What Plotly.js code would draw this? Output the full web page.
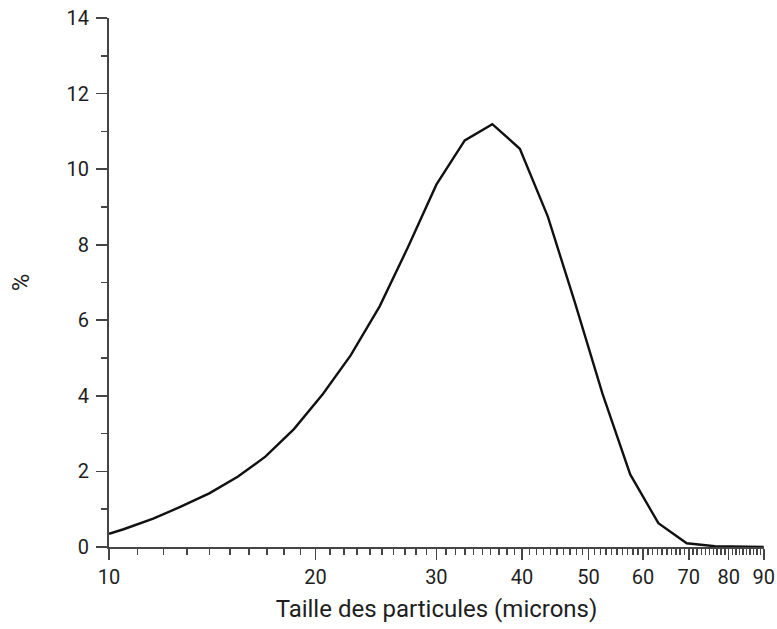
<!DOCTYPE html>
<html>
<head>
<meta charset="utf-8">
<script src="https://cdn.plot.ly/plotly-3.0.1.min.js"></script>
<style>
  html, body { margin: 0; padding: 0; background: #fff; }
  #chart { width: 777px; height: 629px; }
</style>
</head>
<body>
<div id="chart"></div>
<script>
// Particle size (microns) and percentage
const tailles = [10, 10.5, 11.6, 12.7, 14.0, 15.4, 16.9, 18.6, 20.5, 22.5, 24.8, 27.3, 30.0, 33.0, 36.2, 39.7, 43.6, 47.8, 52.4, 57.5, 63.2, 69.5, 76.4, 84.0, 90];
const pourcentages = [0.35, 0.47, 0.75, 1.06, 1.42, 1.86, 2.39, 3.12, 4.05, 5.07, 6.37, 7.95, 9.59, 10.76, 11.19, 10.54, 8.75, 6.45, 4.05, 1.92, 0.63, 0.1, 0.02, 0.0, 0.0];
const xTickLabels = ["10", "20", "30", "40", "50", "60", "70", "80", "90"];
const xTickVals = [10, 20, 30, 40, 50, 60, 70, 80, 90];

const xMinor = [];
for (let v = 11; v < 90; v++) { if (v % 10 !== 0) xMinor.push(v); }

const textColor = '#1e1e1e';
const axisColor = '#454545';
const fontFamily = 'Roboto, "Noto Sans", sans-serif';

const trace = {
  x: tailles,
  y: pourcentages,
  type: 'scatter',
  mode: 'lines',
  line: { color: '#111', width: 2.4 },
  hoverinfo: 'x+y'
};

const layout = {
  width: 777,
  height: 629,
  margin: { l: 109, r: 13, t: 18, b: 82 },
  paper_bgcolor: '#fff',
  plot_bgcolor: '#fff',
  showlegend: false,
  font: { family: fontFamily, color: textColor, size: 20 },
  xaxis: {
    type: 'log',
    range: [1, Math.log10(90) + 0.0004],
    tickmode: 'array',
    tickvals: xTickVals,
    ticktext: xTickLabels,
    ticks: 'outside',
    ticklen: 11,
    tickwidth: 1.7,
    tickcolor: axisColor,
    showline: true,
    linecolor: axisColor,
    linewidth: 1.9,
    showgrid: false,
    zeroline: false,
    tickfont: { family: fontFamily, size: 20, color: textColor },
    minor: {
      tickmode: 'array',
      tickvals: xMinor,
      ticks: 'outside',
      ticklen: 6,
      tickwidth: 1.5,
      tickcolor: axisColor,
      showgrid: false
    },
    title: { text: 'Taille des particules (microns)', font: { family: fontFamily, size: 24, color: textColor }, standoff: 12 }
  },
  yaxis: {
    range: [0, 14],
    tickmode: 'linear',
    tick0: 0,
    dtick: 2,
    ticks: 'outside',
    ticklen: 11,
    tickwidth: 1.7,
    tickcolor: axisColor,
    ticklabelstandoff: 3,
    showline: true,
    linecolor: axisColor,
    linewidth: 1.9,
    showgrid: false,
    zeroline: false,
    tickfont: { family: fontFamily, size: 20, color: textColor },
    minor: {
      dtick: 1,
      ticks: 'outside',
      ticklen: 6,
      tickwidth: 1.5,
      tickcolor: axisColor,
      showgrid: false
    },
    title: { text: '%', font: { family: fontFamily, size: 24, color: textColor }, standoff: 30 }
  }
};

Plotly.newPlot('chart', [trace], layout, { displayModeBar: false, staticPlot: true });
</script>
</body>
</html>
